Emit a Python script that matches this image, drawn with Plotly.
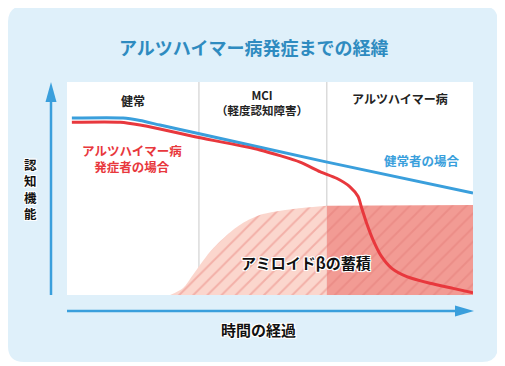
import plotly.graph_objects as go

# ---------------- data ----------------
stage_labels = ["健常", "MCI<br>（軽度認知障害）", "アルツハイマー病"]
stage_bounds = [32.5, 64.0]  # time positions of stage dividers

healthy_t = [1.2, 13.8, 18.0, 22.9, 31.5, 63.5, 100.0]
healthy_v = [83.1, 83.1, 81.9, 79.8, 76.2, 62.6, 47.9]

ad_t = [1.2, 13.1, 18.0, 22.9, 31.5, 47.5, 57.4, 62.3, 66.4, 69.7, 71.7, 72.6,
        73.8, 75.4, 77.5, 80.0, 83.7, 89.4, 95.1, 100.0]
ad_v = [81.1, 81.1, 79.8, 77.9, 74.3, 68.1, 62.4, 57.9, 54.8, 50.8, 46.2, 40.7,
        33.7, 25.8, 18.0, 12.5, 8.6, 5.5, 3.1, 1.1]

amy_pre_t = [25.4, 28.6, 31.0, 35.2, 39.4, 43.3, 47.5, 55.7, 64.0]
amy_pre_v = [0.0, 3.3, 9.4, 20.2, 28.2, 33.8, 37.6, 40.4, 41.9]
amy_ad_t = [64.0, 100.0]
amy_ad_v = [41.9, 42.3]

# ---------------- layout geometry (screen pixels) ----------------
OFF = 8                      # page body margin
W, H = 505 - OFF, 366 - OFF  # figure size
L, R, T, B = 67, 473, 82, 295  # plot area in screen pixels


def px(x):
    return (x - L) / (R - L)


def py(y):
    return (B - y) / (B - T)


def P(x, y):
    return f"{px(x):.5f},{py(y):.5f}"


BLUE = "#3a9fdc"
RED = "#e8383d"
JP = "Noto Sans CJK JP"
OUT = ("1px 1px 0 #fff, -1px -1px 0 #fff, 1px -1px 0 #fff, -1px 1px 0 #fff, "
       "0 1px 0 #fff, 0 -1px 0 #fff, 1px 0 0 #fff, -1px 0 0 #fff")

fig = go.Figure()

fig.add_trace(go.Scatter(
    x=amy_pre_t, y=amy_pre_v, mode="none", fill="tozeroy",
    line=dict(shape="spline", smoothing=0.8),
    fillcolor="#fbd6cd",
    fillpattern=dict(shape="/", fgcolor="#ea8a83", bgcolor="#fbd6cd", size=10, solidity=0.2),
    hoverinfo="skip", showlegend=False))
fig.add_trace(go.Scatter(
    x=amy_ad_t, y=amy_ad_v, mode="none", fill="tozeroy",
    fillcolor="#f29b94",
    fillpattern=dict(shape="/", fgcolor="#e4807a", bgcolor="#f29b94", size=10, solidity=0.2),
    hoverinfo="skip", showlegend=False))
fig.add_trace(go.Scatter(
    x=healthy_t, y=healthy_v, mode="lines",
    line=dict(color=BLUE, width=3, shape="spline", smoothing=0.6),
    hoverinfo="skip", showlegend=False))
fig.add_trace(go.Scatter(
    x=ad_t, y=ad_v, mode="lines",
    line=dict(color=RED, width=3, shape="spline", smoothing=0.6),
    hoverinfo="skip", showlegend=False))

shapes = []
x0, y0, x1, y1, r = 8, 6, 498, 362, 16
path = (f"M {P(x0 + r, y0)} L {P(x1 - r, y0)} Q {P(x1, y0)} {P(x1, y0 + r)} "
        f"L {P(x1, y1 - r)} Q {P(x1, y1)} {P(x1 - r, y1)} L {P(x0 + r, y1)} "
        f"Q {P(x0, y1)} {P(x0, y1 - r)} L {P(x0, y0 + r)} Q {P(x0, y0)} {P(x0 + r, y0)} Z")
shapes.append(dict(type="path", xref="paper", yref="paper", layer="below",
                   path=path, fillcolor="#dff0fa", line=dict(width=0)))
shapes.append(dict(type="rect", xref="paper", yref="paper", layer="below",
                   x0=0, x1=1, y0=0, y1=1, fillcolor="white", line=dict(width=0)))
for b in stage_bounds:
    shapes.append(dict(type="line", xref="x", yref="paper", layer="below",
                       x0=b, x1=b, y0=0, y1=1, line=dict(color="#c9c9c9", width=1)))
# y arrow
shapes.append(dict(type="line", xref="paper", yref="paper",
                   x0=px(51), x1=px(51), y0=py(295), y1=py(100),
                   line=dict(color=BLUE, width=2.5)))
shapes.append(dict(type="path", xref="paper", yref="paper",
                   path=f"M {P(51, 82)} L {P(45.5, 102)} L {P(56.5, 102)} Z",
                   fillcolor=BLUE, line=dict(width=0)))
# x arrow
shapes.append(dict(type="line", xref="paper", yref="paper",
                   x0=px(67), x1=px(458), y0=py(311), y1=py(311),
                   line=dict(color=BLUE, width=2.5)))
shapes.append(dict(type="path", xref="paper", yref="paper",
                   path=f"M {P(474, 311)} L {P(455, 305.5)} L {P(455, 316.5)} Z",
                   fillcolor=BLUE, line=dict(width=0)))


def ann(text, x, y, size, color="#222", shadow=None, weight=700):
    f = dict(family=JP, size=size, color=color, weight=weight)
    if shadow:
        f["shadow"] = shadow
    return dict(text=text, xref="paper", yref="paper", x=px(x), y=py(y),
                xanchor="center", yanchor="middle", showarrow=False, font=f)


annotations = [
    ann("アルツハイマー病発症までの経緯", 253, 47, 18, "#2e8bc0"),
    ann(stage_labels[0], 133, 100, 12),
    ann(stage_labels[1], 262, 102, 11.5),
    ann(stage_labels[2], 400, 98, 12),
    ann("アルツハイマー病<br>発症者の場合", 132, 158, 12.5, RED),
    ann("健常者の場合", 422, 160, 12.5, BLUE),
    ann("アミロイドβの蓄積", 306, 262, 15, "#111", OUT),
    ann("時間の経過", 258, 329, 15, "#111", OUT),
    ann("<br>".join("認知機能"), 30, 189, 12.5, "#111", OUT),
]

fig.update_layout(
    width=W, height=H,
    margin=dict(l=L - OFF, r=W - (R - OFF), t=T - OFF, b=H - (B - OFF), pad=0),
    paper_bgcolor="white", plot_bgcolor="rgba(0,0,0,0)",
    xaxis=dict(range=[0, 100], visible=False, fixedrange=True),
    yaxis=dict(range=[0, 100], visible=False, fixedrange=True),
    shapes=shapes, annotations=annotations, showlegend=False,
)

fig.write_html("out.html")
